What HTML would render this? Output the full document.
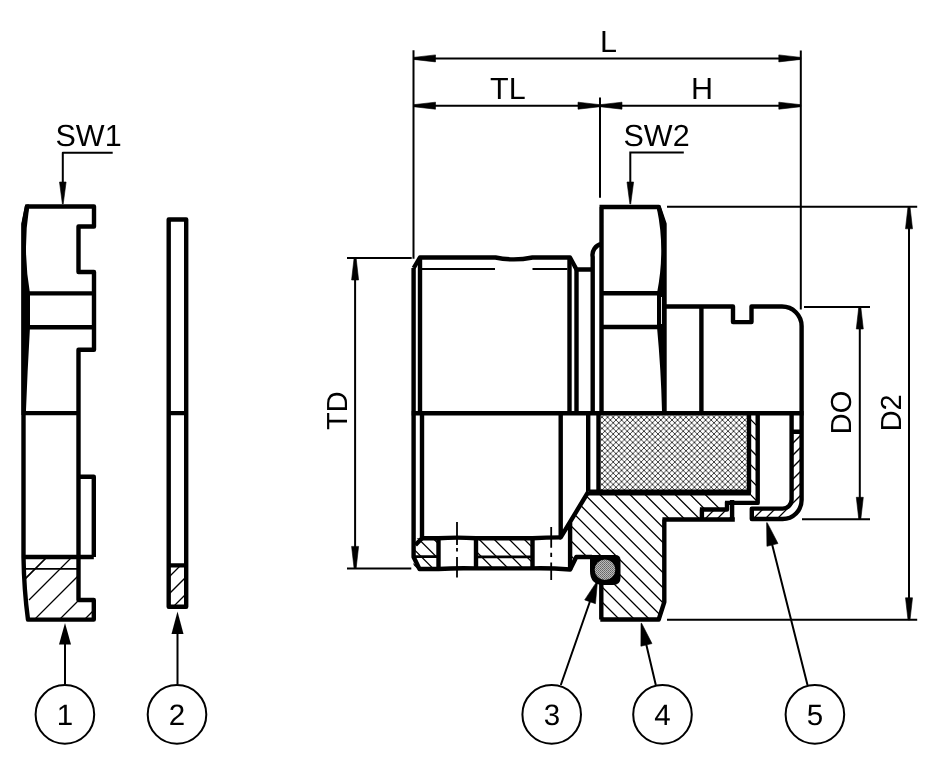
<!DOCTYPE html>
<html><head><meta charset="utf-8">
<style>
html,body{margin:0;padding:0;background:#fff;}
svg{display:block;will-change:transform;}
text{font-family:"Liberation Sans",sans-serif;fill:#000;}
</style></head>
<body>
<svg width="945" height="780" viewBox="0 0 945 780" text-rendering="geometricPrecision">
<defs>
<pattern id="cross" patternUnits="userSpaceOnUse" width="5.6" height="5.6">
<path d="M0,0 L5.6,5.6 M5.6,0 L0,5.6" stroke="#000" stroke-width="0.75"/>
</pattern>
<pattern id="dots" patternUnits="userSpaceOnUse" width="2" height="2">
<rect width="2" height="2" fill="#bbb"/><rect width="1" height="1" fill="#666"/><rect x="1" y="1" width="1" height="1" fill="#777"/>
</pattern>
<clipPath id="c1"><path d="M23.5,557 Q24,590 28,619.6 H93.8 V600 H78.3 V557 Z"/></clipPath>
<clipPath id="c2"><rect x="168.7" y="565.4" width="17.5" height="41.3"/></clipPath>
<clipPath id="c4"><path d="M570.1,522 L588.5,495 H757.7 V502.9 H727 V509.5 H701.9 V519.5 H664.3 V602 L658.7,619.5 H601.3 V584 H620 V557 H576.3 L570.1,569.7 Z"/></clipPath>
<clipPath id="c5"><path d="M413.5,538.3 V569 H438.5 V538.3 Z M476,538.3 V569 H532.5 V538.3 Z M751,413 V502.9 H757.7 V413 Z"/></clipPath>
<clipPath id="c6"><path d="M791.6,431.8 V499.6 A9,9 0 0 1 782.6,508.6 H751.8 V519 H782 A19.6,19.6 0 0 0 801.6,500 V431.8 Z M701.9,509.5 H732.1 V519.5 H701.9 Z"/></clipPath>
</defs>

<g fill="none" stroke="#000" stroke-linecap="butt" stroke-linejoin="round">

<!-- ============ PART 1 ============ -->
<g stroke-width="4.4">
<path d="M27,206.5 H94 V226.5 H78.5 V272 H94 V349.7 H78.5 V600 H93.8 V619.6 H28 Q24,590 23.5,557 V224 Z"/>
<path d="M78.5,476.8 H93.8 V557"/>
<path d="M23.5,293.4 H94 M23.5,327.2 H94 M23.5,413.1 H78.5 M23.5,557 H93.8"/>
</g>
<path d="M25.2,204.5 L21.5,224 V415 H25.8 Q27.5,370 30,327 V293.4 Q22.5,250 29,208.5 V204.5 Z" fill="#000" stroke="none"/>
<path d="M25,568.9 H78.3" stroke-width="1.8"/>
<g clip-path="url(#c1)" stroke-width="1.3">
<path d="M4,600 L54,550 M29,600 L79,550 M0,654 L104,550 M0,679 L129,550 M0,704 L154,550 M0,729 L179,550"/>
<path d="M-21,625 L54,550"/>
</g>

<!-- ============ PART 2 ============ -->
<g stroke-width="4.4">
<rect x="168.7" y="219.5" width="17.5" height="387.2"/>
<path d="M168.7,413.1 H186.2 M168.7,565.4 H186.2"/>
</g>
<g clip-path="url(#c2)" stroke-width="1.3">
<path d="M100,646 L220,526 M100,663 L220,543 M100,680 L220,560 M100,697 L220,577 M100,714 L220,594"/>
</g>

<!-- ============ SW1 leader ============ -->
<g stroke-width="2">
<path d="M112.7,152.8 H62.8 V183"/>
<path d="M65,684.3 V640 M177.5,684.3 V630"/>
<circle cx="64.9" cy="714.4" r="29.3"/>
<circle cx="177" cy="714.4" r="29.3"/>
</g>
</g>
<g fill="#000">
<path d="M65,623 L59,644.4 H71 Z"/>
<path d="M177.5,611.6 L171.5,633.9 H183.5 Z"/>
</g>
<text transform="translate(55.5,145.8)" font-size="30.5">SW1</text>
<text transform="translate(64.9,724.7)" font-size="29.5" text-anchor="middle">1</text>
<text transform="translate(177,724.7)" font-size="29.5" text-anchor="middle">2</text>

<!-- ============ MAIN: dimensions ============ -->
<g fill="none" stroke="#000" stroke-width="2">
<path d="M413.5,50.3 V258.8 M800.8,50.4 V309.5 M600,97.4 V197.7"/>
<path d="M413.5,58.4 H800.8 M413.5,105.7 H800.8"/>
<path d="M683.8,152.6 H630.3 V183"/>
<path d="M667,206.8 H917.2 M667,619.8 H917.2 M909,206.8 V619.8"/>
<path d="M804,307 H870 M802,519.3 H870 M859.8,307 V519.3"/>
<path d="M347,258 H411.7 M347,568.4 H411.3 M355.1,258 V568.4"/>
<circle cx="551.7" cy="714.4" r="29.3"/>
<circle cx="662.5" cy="714.4" r="29.3"/>
<circle cx="814.9" cy="714.4" r="29.3"/>
<path d="M560.8,685 L591.5,597 M655.8,685 L644.5,637 M807.5,685 L770.5,538"/>
</g>
<g fill="#000" stroke="#000" stroke-width="0.6" stroke-linejoin="round"><path d="M413.50,59.40 L435.50,61.90 L435.50,54.90 L413.50,57.40 Z M800.80,57.40 L778.80,54.90 L778.80,61.90 L800.80,59.40 Z M413.50,106.70 L435.50,109.20 L435.50,102.20 L413.50,104.70 Z M600.00,104.70 L578.00,102.20 L578.00,109.20 L600.00,106.70 Z M600.00,106.70 L622.00,109.20 L622.00,102.20 L600.00,104.70 Z M800.80,104.70 L778.80,102.20 L778.80,109.20 L800.80,106.70 Z M908.00,206.80 L905.50,228.80 L912.50,228.80 L910.00,206.80 Z M910.00,619.80 L912.50,597.80 L905.50,597.80 L908.00,619.80 Z M858.80,307.00 L856.30,329.00 L863.30,329.00 L860.80,307.00 Z M860.80,519.30 L863.30,497.30 L856.30,497.30 L858.80,519.30 Z M354.10,258.00 L351.60,280.00 L358.60,280.00 L356.10,258.00 Z M356.10,568.40 L358.60,546.40 L351.60,546.40 L354.10,568.40 Z M63.20,204.00 L66.10,182.00 L59.50,182.00 L62.40,204.00 Z M630.70,204.00 L633.60,182.00 L627.00,182.00 L629.90,204.00 Z M596.92,581.40 L584.69,599.89 L595.45,603.67 L597.48,581.60 Z M641.01,623.37 L640.90,646.22 L651.99,643.57 L641.59,623.23 Z M766.61,522.77 L766.93,546.30 L777.99,543.53 L767.19,522.63 Z"/></g>
<text transform="translate(600,52.1)" font-size="30.5">L</text>
<text transform="translate(490,99.2)" font-size="30.5">TL</text>
<text transform="translate(691,99.1)" font-size="30.5">H</text>
<text transform="translate(623.5,145.7)" font-size="30.5">SW2</text>
<text transform="translate(851,412.5) rotate(-90)" font-size="29" text-anchor="middle">DO</text>
<text transform="translate(900.5,412.8) rotate(-90)" font-size="29" text-anchor="middle">D2</text>
<text transform="translate(347,410.7) rotate(-90)" font-size="29" text-anchor="middle">TD</text>
<text transform="translate(551.9,724.7)" font-size="29.5" text-anchor="middle">3</text>
<text transform="translate(662.5,724.7)" font-size="29.5" text-anchor="middle">4</text>
<text transform="translate(814.9,724.7)" font-size="29.5" text-anchor="middle">5</text>

<!-- ============ MAIN: body ============ -->
<rect x="600.6" y="415.4" width="148.4" height="75" fill="url(#cross)"/>
<g clip-path="url(#c4)" stroke="#000" stroke-width="1.3"><path d="M394.70,485.00L534.70,625.00M409.75,485.00L549.75,625.00M424.80,485.00L564.80,625.00M439.85,485.00L579.85,625.00M454.90,485.00L594.90,625.00M469.95,485.00L609.95,625.00M485.00,485.00L625.00,625.00M500.05,485.00L640.05,625.00M515.10,485.00L655.10,625.00M530.15,485.00L670.15,625.00M545.20,485.00L685.20,625.00M560.25,485.00L700.25,625.00M575.30,485.00L715.30,625.00M590.35,485.00L730.35,625.00M605.40,485.00L745.40,625.00M620.45,485.00L760.45,625.00M635.50,485.00L775.50,625.00M650.55,485.00L790.55,625.00M665.60,485.00L805.60,625.00M680.65,485.00L820.65,625.00M695.70,485.00L835.70,625.00"/></g>
<g clip-path="url(#c5)" stroke="#000" stroke-width="1.3"><path d="M229.40,410.00L394.40,575.00M244.45,410.00L409.45,575.00M259.50,410.00L424.50,575.00M274.55,410.00L439.55,575.00M289.60,410.00L454.60,575.00M304.65,410.00L469.65,575.00M319.70,410.00L484.70,575.00M334.75,410.00L499.75,575.00M349.80,410.00L514.80,575.00M364.85,410.00L529.85,575.00M379.90,410.00L544.90,575.00M394.95,410.00L559.95,575.00M410.00,410.00L575.00,575.00M425.05,410.00L590.05,575.00M440.10,410.00L605.10,575.00M455.15,410.00L620.15,575.00M470.20,410.00L635.20,575.00M485.25,410.00L650.25,575.00M500.30,410.00L665.30,575.00M515.35,410.00L680.35,575.00M530.40,410.00L695.40,575.00M545.45,410.00L710.45,575.00M560.50,410.00L725.50,575.00M575.55,410.00L740.55,575.00M590.60,410.00L755.60,575.00M605.65,410.00L770.65,575.00M620.70,410.00L785.70,575.00M635.75,410.00L800.75,575.00M650.80,410.00L815.80,575.00M665.85,410.00L830.85,575.00M680.90,410.00L845.90,575.00M695.95,410.00L860.95,575.00M711.00,410.00L876.00,575.00M726.05,410.00L891.05,575.00M741.10,410.00L906.10,575.00M756.15,410.00L921.15,575.00M771.20,410.00L936.20,575.00M786.25,410.00L951.25,575.00"/></g>
<g clip-path="url(#c6)" stroke="#000" stroke-width="1.3"><path d="M679.00,425.00L579.00,525.00M691.00,425.00L591.00,525.00M703.00,425.00L603.00,525.00M715.00,425.00L615.00,525.00M727.00,425.00L627.00,525.00M739.00,425.00L639.00,525.00M751.00,425.00L651.00,525.00M763.00,425.00L663.00,525.00M775.00,425.00L675.00,525.00M787.00,425.00L687.00,525.00M799.00,425.00L699.00,525.00M811.00,425.00L711.00,525.00M823.00,425.00L723.00,525.00M835.00,425.00L735.00,525.00M847.00,425.00L747.00,525.00M859.00,425.00L759.00,525.00M871.00,425.00L771.00,525.00M883.00,425.00L783.00,525.00M895.00,425.00L795.00,525.00M907.00,425.00L807.00,525.00M919.00,425.00L819.00,525.00"/></g>

<g fill="none" stroke="#000" stroke-width="4.4" stroke-linejoin="round">
<!-- thread upper -->
<path d="M413.7,268 L419.9,257.5 H495.5 C505,259.5 520,260 532.5,257.5 H570 L576.5,269.5 H592.7"/>
<path d="M420,257.5 V413 M569.5,257.5 V413 M576.5,268 V413"/>
<path d="M601.5,244 A11,11 0 0 0 592.7,257 V413"/>
<!-- thread lower -->
<path d="M413.6,268 V557 L419.5,569 H438.5 Q457,567.8 476,568.4 H532.5 Q550,568 570.1,569.5 L576.3,557 H592"/>
<path d="M422,413 V538.3 M422,538.3 L415.4,545"/>
<path d="M422,538.3 H438.5 Q457,537 476,538.3 H532.5 Q546,537.5 561,537.4"/>
<path d="M438.5,538 V569 M476,538 V569 M532.5,538 V569"/>
<path d="M560.7,413 V537.4 L588.5,491.5 M570.1,522 V569.7"/>
<path d="M588.2,413 V491.5 M598.5,413 V492.4 M749,413 V492.4 M757.7,413 V502.9 H725 M727,501.7 V509.5 H699.9 M701.9,509.5 V519.5 M732.1,500 V519.5"/>
<path d="M662.4,519.5 H734.8 M664.3,519.5 V602 L658.7,619.5 H600.3 M601.3,584 V619.5"/>
<!-- nut -->
<path d="M601.5,207 V413 M599.5,207 H658.7 L664.5,224 V413"/>
<path d="M601.5,293.2 H662 M601.5,327 H662"/>
<!-- cap -->
<path d="M664,306.5 H733 V322.1 H751.5 V306.5 H782 A19.6,19.6 0 0 1 801.6,326 V500 A19,19 0 0 1 782.6,519 H751.8 V508.6 H782.6 A9,9 0 0 0 791.6,499.6 V413"/>
<path d="M701.4,306.5 V413 M791.6,431.8 H801.6"/>
<!-- centerline -->
<path d="M411.7,413.2 H803.6" stroke-width="4.5"/>
<path d="M588.5,492.4 H751" stroke-width="6"/>
</g>
<path d="M660.2,205 L666,224 V411 H662 Q661,370 657,327 V293.2 Q665.5,250 657,209 V205 Z" fill="#000"/>
<path d="M661.5,297 V324" stroke="#fff" stroke-width="0.9"/>
<path d="M419.9,269 H495 M532.5,269 H567.5" stroke="#000" stroke-width="2"/>
<path d="M413.5,556.7 H438.5 M476,556.9 H532.5" stroke="#000" stroke-width="2.8"/>
<path d="M457,522 V545 M457,548 V551.5 M457,557 V577.5 M551.2,527 V547.7 M551.2,552.8 V557 M551.2,562.6 V580" stroke="#000" stroke-width="1.8"/>
<!-- o-ring -->
<path d="M590,555 H615 Q620.5,555 620.5,560 V578 Q620.5,585 613,585 H604 Q590,585 590,571 Z" fill="#000"/>
<circle cx="605" cy="569.7" r="10.3" fill="url(#dots)"/>
</svg>
</body></html>
